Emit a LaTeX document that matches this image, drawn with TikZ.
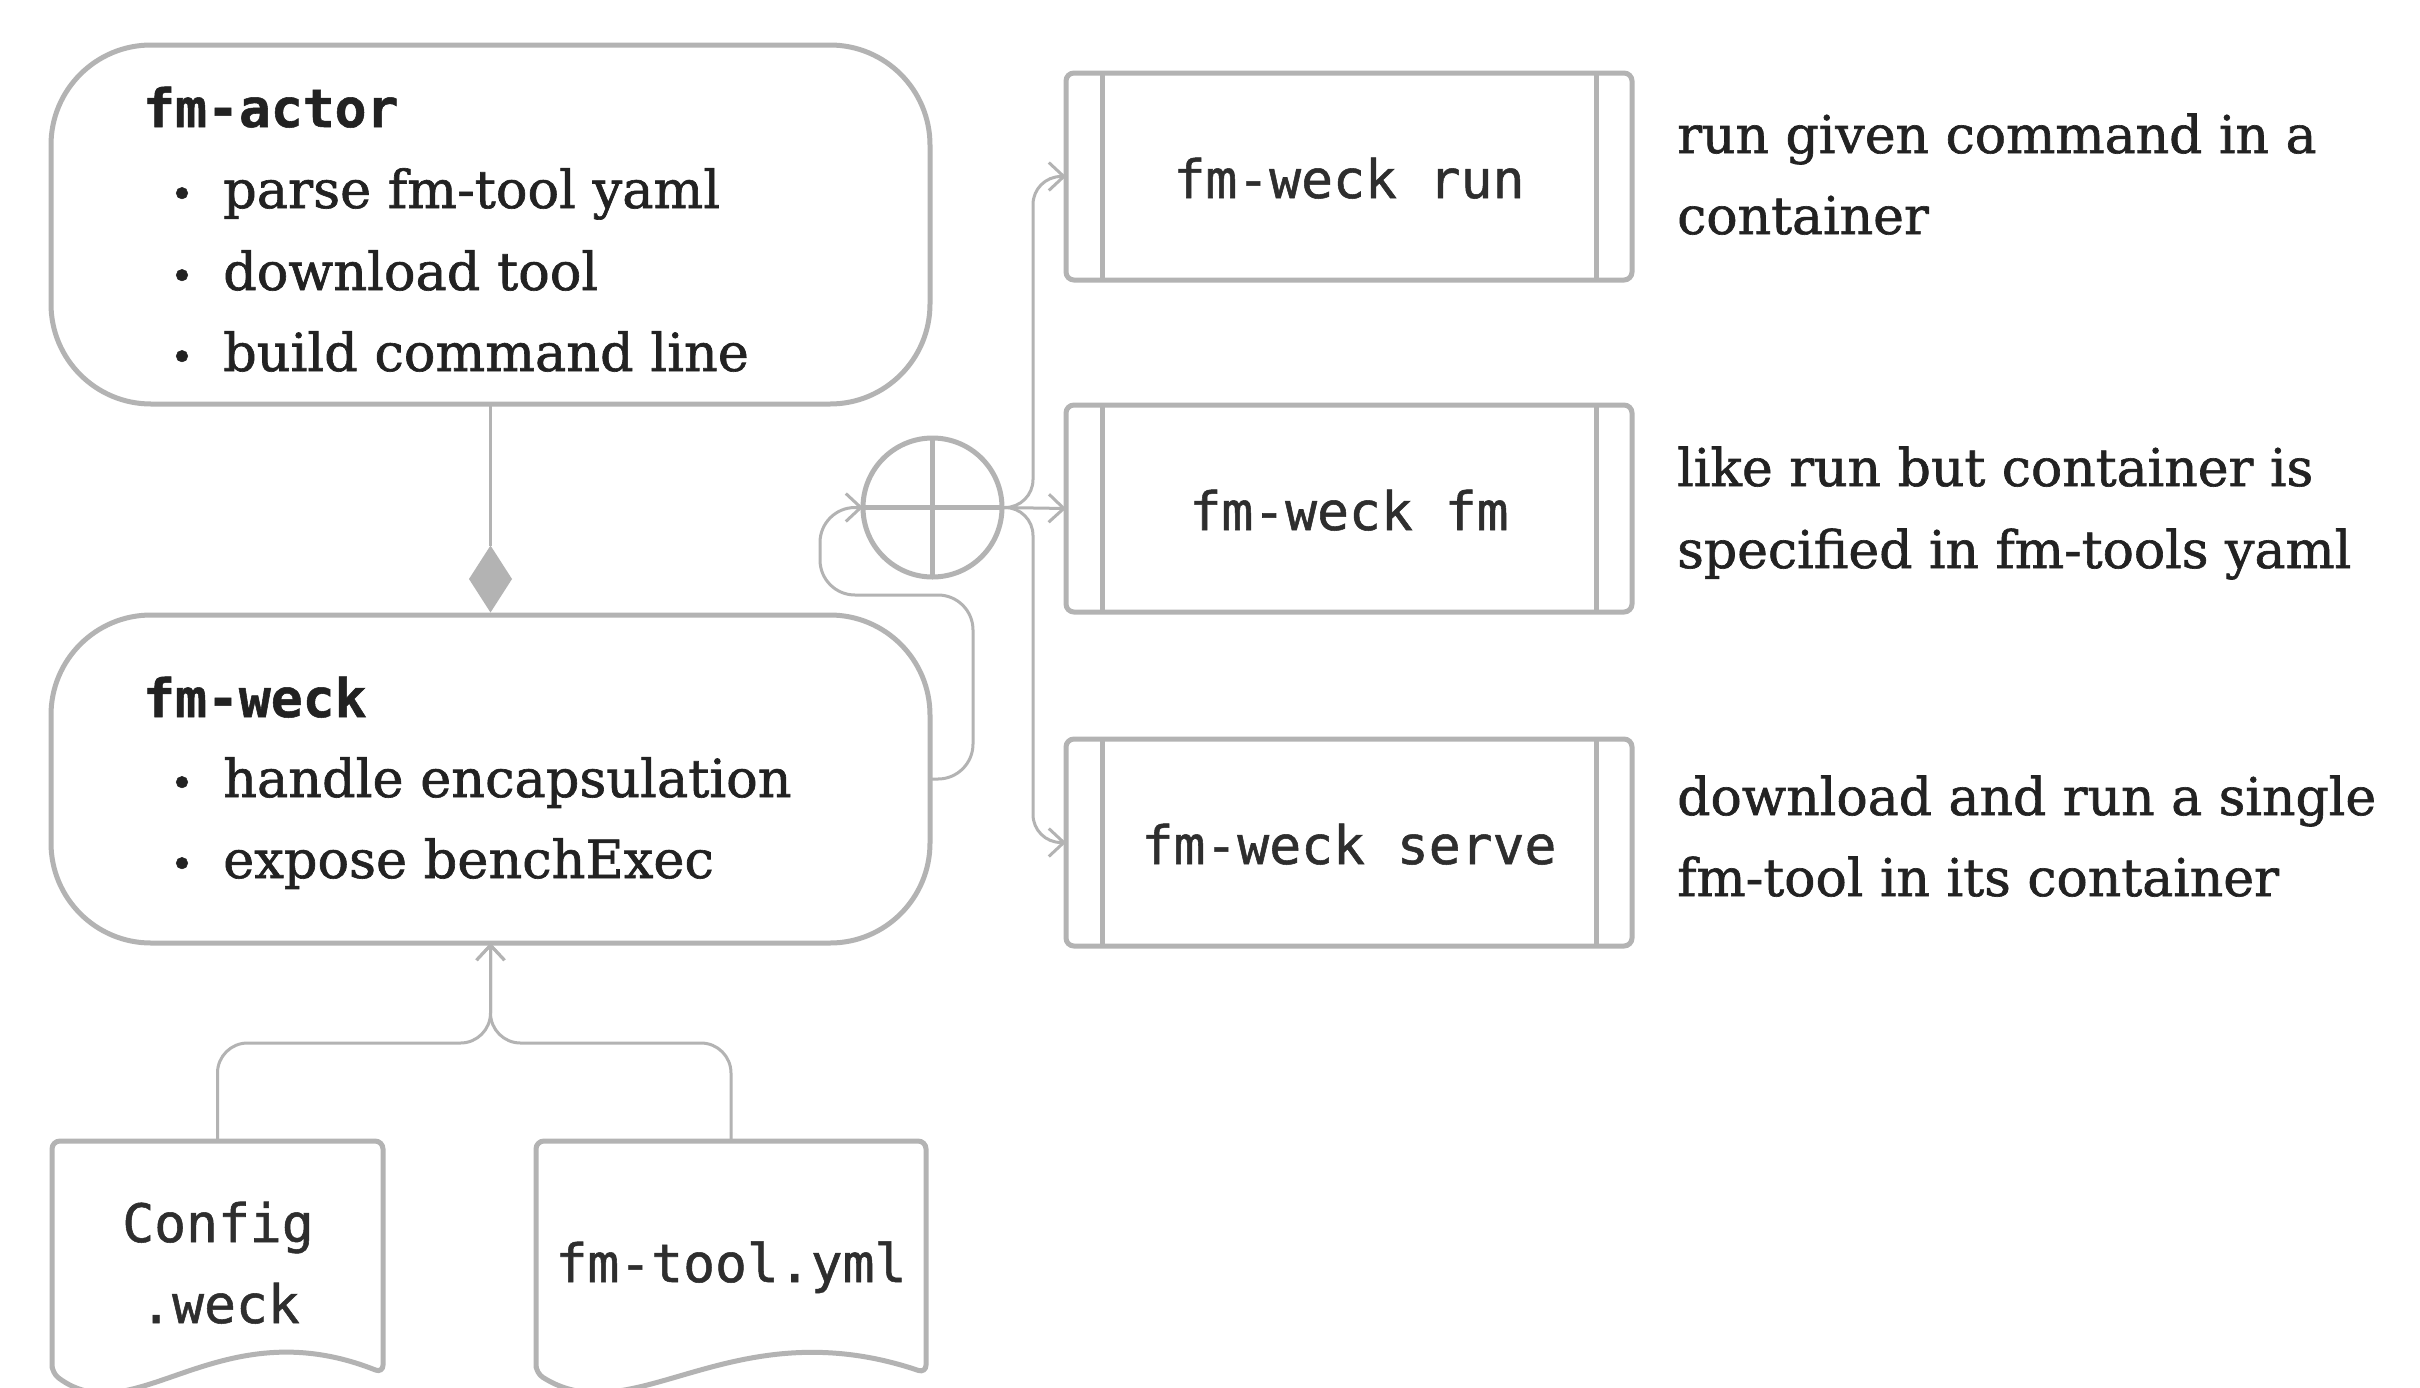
\documentclass[tikz,border=0pt]{standalone}
\usepackage{fontspec}
\setmainfont{DejaVu Serif}[FakeBold=1.2]
\setmonofont{DejaVu Sans Mono}[FakeBold=1.0]
\usetikzlibrary{shapes.geometric,arrows.meta,calc}
\definecolor{edge}{HTML}{B3B3B3}
\definecolor{ink}{HTML}{222222}
\definecolor{monoink}{HTML}{2E2E2E}
\begin{document}
\begin{tikzpicture}[x=1pt,y=-1pt,
  bigbox/.style={draw=edge,line width=5pt,rounded corners=100pt,outer sep=0pt,inner sep=0pt,minimum width=879pt},
  cmdbox/.style={draw=edge,line width=5pt,rounded corners=8pt,outer sep=0pt,inner sep=0pt,minimum width=566pt,minimum height=207pt},
  docframe/.style={inner sep=0pt,outer sep=0pt,minimum height=232pt},
  docline/.style={draw=edge,line width=5pt,rounded corners=8pt},
  innerline/.style={draw=edge,line width=5pt},
  conn/.style={draw=edge,line width=3pt},
  arr/.style={conn,-{Straight Barb[length=15pt,width=28pt]}},
  monolbl/.style={font=\fontsize{53}{60}\selectfont\ttfamily,text=monoink,inner sep=0pt,anchor=base},
  headlbl/.style={font=\fontsize{53}{60}\selectfont\ttfamily\bfseries,text=ink,inner sep=0pt,anchor=base west},
  itemlbl/.style={font=\fontsize{52.5}{60}\selectfont,text=ink,inner sep=0pt,anchor=base west},
  bul/.style={font=\fontsize{40}{40}\selectfont,text=ink,inner sep=0pt,anchor=base},
  desc/.style={font=\fontsize{52}{60}\selectfont,text=ink,inner sep=0pt,anchor=base west}
]
\fill[white] (0,0) rectangle (2420,1387);
\useasboundingbox (0,0) rectangle (2420,1387);

% big boxes
\node[bigbox,minimum height=359pt] (actor) at (490.5,224.5) {};
\node[bigbox,minimum height=328pt] (weck) at (490.5,779) {};

\node[headlbl] (actorT) at (143,127) {fm-actor};
\node[bul] (b1) at (182,208) {•};
\node[itemlbl] (a1) at (223,208) {parse fm-tool yaml};
\node[bul] (b2) at (182,290) {•};
\node[itemlbl] (a2) at (223,290) {download tool};
\node[bul] (b3) at (182,371) {•};
\node[itemlbl] (a3) at (223,371) {build command line};

\node[headlbl] (weckT) at (143,717) {fm-weck};
\node[bul] (b4) at (182,797) {•};
\node[itemlbl] (w1) at (223,797) {handle encapsulation};
\node[bul] (b5) at (182,878) {•};
\node[itemlbl] (w2) at (223,878) {expose benchExec};

% diamond composition
\node[diamond,fill=edge,minimum width=43pt,minimum height=67pt,inner sep=0pt,outer sep=0pt] (dia) at (490.5,579) {};
\draw[conn] (actor.south) -- (dia.north);

% join circle
\node[circle,draw=edge,line width=5pt,minimum size=139pt,inner sep=0pt,outer sep=0pt] (join) at (932.5,507.5) {};
\draw[innerline] (join.north) -- (join.south) (join.west) -- (join.east);

% command boxes
\foreach \n/\y/\t in {run/176.5/fm-weck run,fm/508.5/fm-weck fm,serve/842.5/fm-weck serve}{
  \node[cmdbox] (\n) at (1349,\y) {};
  \draw[innerline] ($(\n.north west)+(36,0)$) -- ($(\n.south west)+(36,0)$);
  \draw[innerline] ($(\n.north east)+(-36,0)$) -- ($(\n.south east)+(-36,0)$);
  \node[monolbl] (\n T) at (1349,\y+21.5) {\t};
}

% descriptions
\node[desc] (d1a) at (1677,153) {run given command in a};
\node[desc] (d1b) at (1677,234) {container};
\node[desc] (d2a) at (1677,486) {like run but container is};
\node[desc] (d2b) at (1677,568) {specified in fm-tools yaml};
\node[desc] (d3a) at (1677,815) {download and run a single};
\node[desc] (d3b) at (1677,896) {fm-tool in its container};

% documents
\node[docframe,minimum width=331pt] (cfg) at (217.5,1257) {};
\node[docframe,minimum width=390pt] (tool) at (731,1257) {};
\foreach \d in {cfg,tool}{
  \draw[docline] (\d.south west) -- (\d.north west) -- (\d.north east) -- (\d.south east)
    .. controls ($(\d.south west)!0.5!(\d.south east)+(0,-66)$) and ($(\d.south west)!0.25!(\d.south east)+(0,62)$) .. (\d.south west) -- cycle;
}
\node[monolbl] (cfgT1) at (218,1242) {Config};
\node[monolbl] (cfgT2) at (220,1323) {.weck};
\node[monolbl] (toolT) at (731,1282) {fm-tool.yml};

% connectors
\coordinate (merge) at (490.5,1043);
\draw[arr,rounded corners=30pt] (cfg.north) |- (merge) -- (weck.south);
\draw[arr,rounded corners=30pt] (tool.north) |- (merge) -- (weck.south);

\draw[arr,rounded corners=35pt] (weck.east) -| (973,595) -| (820,507.5) -- (join.west);

\coordinate (fork) at (1033,507.5);
\draw[arr] (join.east) -- (fm.west);
\draw[arr,rounded corners=28pt] (join.east) -- (fork) |- (run.west);
\draw[arr,rounded corners=28pt] (join.east) -- (fork) |- (serve.west);
\end{tikzpicture}
\end{document}
